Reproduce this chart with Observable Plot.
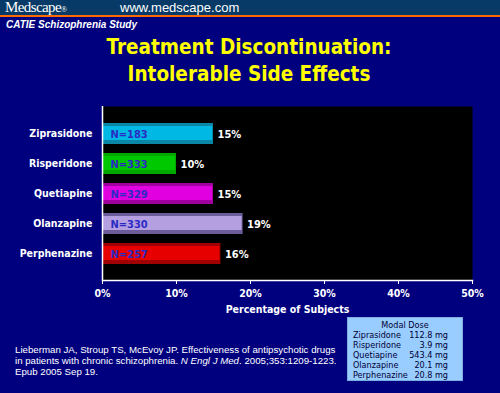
<!DOCTYPE html>
<html><head><meta charset="utf-8">
<script src="https://cdn.jsdelivr.net/npm/d3@7"></script>
<script src="https://cdn.jsdelivr.net/npm/@observablehq/plot@0.6"></script>
<style>
body{margin:0;background:#00007f;}
#wrap{position:relative;width:500px;height:393px;overflow:hidden;background:#00007f;font-family:"Liberation Sans",Arial,sans-serif;color:#fff;}
#hdr{position:absolute;left:0;top:0;width:500px;height:15px;background:#073a66;}
#orange{position:absolute;left:0;top:15px;width:500px;height:2px;background:#ff6a00;}
.abs{position:absolute;white-space:nowrap;}
#chart{position:absolute;left:0;top:0;}
#dose{position:absolute;left:347px;top:317px;width:114px;height:62px;background:#99ccff;border:1px solid #7aaee0;color:#000033;font-family:"DejaVu Sans Condensed","DejaVu Sans",sans-serif;font-size:9px;}
.row{position:absolute;left:5px;width:95px;height:10px;line-height:10px;white-space:nowrap;}
.row .v{position:absolute;right:0;top:0;}
</style></head>
<body>
<div id="wrap">
  <div id="hdr"></div>
  <div id="orange"></div>
  <div class="abs" style="left:5px;top:0px;font-family:'Liberation Serif',serif;font-size:15px;line-height:15px;letter-spacing:-0.6px;">Medscape<span style="font-size:8px;">®</span></div>
  <div class="abs" style="left:120px;top:0px;font-size:13px;line-height:15px;">www.medscape.com</div>
  <div class="abs" style="left:6px;top:19px;font-size:10px;font-weight:bold;font-style:italic;">CATIE Schizophrenia Study</div>
  <div class="abs" id="title" style="left:0;top:34px;width:498px;text-align:center;color:#ffff00;font-family:'DejaVu Sans Condensed','DejaVu Sans',sans-serif;font-weight:bold;font-size:20.5px;line-height:27px;">Treatment Discontinuation:<br>Intolerable Side Effects</div>
  <div id="chart"></div>
  <div class="abs" style="left:15px;top:344px;font-size:9.7px;line-height:11px;">Lieberman JA, Stroup TS, McEvoy JP. Effectiveness of antipsychotic drugs<br>in patients with chronic schizophrenia. <i>N Engl J Med</i>. 2005;353:1209-1223.<br>Epub 2005 Sep 19.</div>
  <div id="dose"></div>
</div>
<script>
const drugs = ["Ziprasidone", "Risperidone", "Quetiapine", "Olanzapine", "Perphenazine"];
const discontinuedPct = [15, 10, 15, 19, 16];
const groupN = [183, 333, 329, 330, 257];
const xTicks = [0, 10, 20, 30, 40, 50];
const doseDrugs = ["Ziprasidone", "Risperidone", "Quetiapine", "Olanzapine", "Perphenazine"];
const modalDose = ["112.8 mg", "3.9 mg", "543.4 mg", "20.1 mg", "20.8 mg"];

const darkColors = ["#0a86a6", "#00a800", "#a000a0", "#6c5c9c", "#a00000"];
const lightColors = ["#00b8e4", "#00c800", "#e000e0", "#b4a0e0", "#e60000"];

const data = drugs.map((d, i) => ({drug: d, pct: discontinuedPct[i], n: groupN[i], dark: darkColors[i], light: lightColors[i]}));

const font = "'DejaVu Sans Condensed','DejaVu Sans',sans-serif";

const chart = Plot.plot({
  width: 500,
  height: 393,
  marginLeft: 102,
  marginRight: 28,
  marginTop: 106,
  marginBottom: 113,
  style: {background: "transparent", color: "white", fontFamily: font, fontSize: "10.5px", fontWeight: "bold", overflow: "visible"},
  x: {domain: [0, 50]},
  y: {domain: drugs, range: [122, 264], paddingInner: 0.3, paddingOuter: 0},
  marks: [
    Plot.frame({fill: "black"}),
    Plot.barX(data, {y: "drug", x: "pct", fill: d => d.dark}),
    Plot.barX(data, {y: "drug", x: "pct", fill: d => d.light, insetTop: 3, insetBottom: 4, insetRight: 1}),
    Plot.text(data, {y: "drug", x: 0, dx: 8, text: d => "N=" + d.n, textAnchor: "start", fill: "#2b2bc4", fontSize: 11, fontWeight: "bold"}),
    Plot.text(data, {y: "drug", x: "pct", dx: 4, text: d => d.pct + "%", textAnchor: "start", fill: "white", fontSize: 11, fontWeight: "bold"}),
    Plot.ruleX([0], {stroke: "white", strokeWidth: 1.5}),
    Plot.frame({anchor: "bottom", stroke: "white", strokeWidth: 1.5}),
    Plot.axisY({tickSize: 0, tickPadding: 10, label: null, fontSize: 10.5}),
    Plot.axisX({ticks: xTicks, tickFormat: d => d + "%", tickSize: 4, tickPadding: 5, stroke: "white", label: "Percentage of Subjects", labelAnchor: "center", labelArrow: "none", labelOffset: 32, fontSize: 10.5})
  ]
});
document.getElementById("chart").appendChild(chart);

const box = document.getElementById("dose");
let html = '<div style="position:absolute;left:0;top:2px;width:100%;text-align:center;line-height:10px;">Modal Dose</div>';
doseDrugs.forEach((d, i) => {
  html += '<div class="row" style="top:' + (12 + i * 10) + 'px;">' + d + '<span class="v">' + modalDose[i] + '</span></div>';
});
box.innerHTML = html;
</script>
</body></html>
